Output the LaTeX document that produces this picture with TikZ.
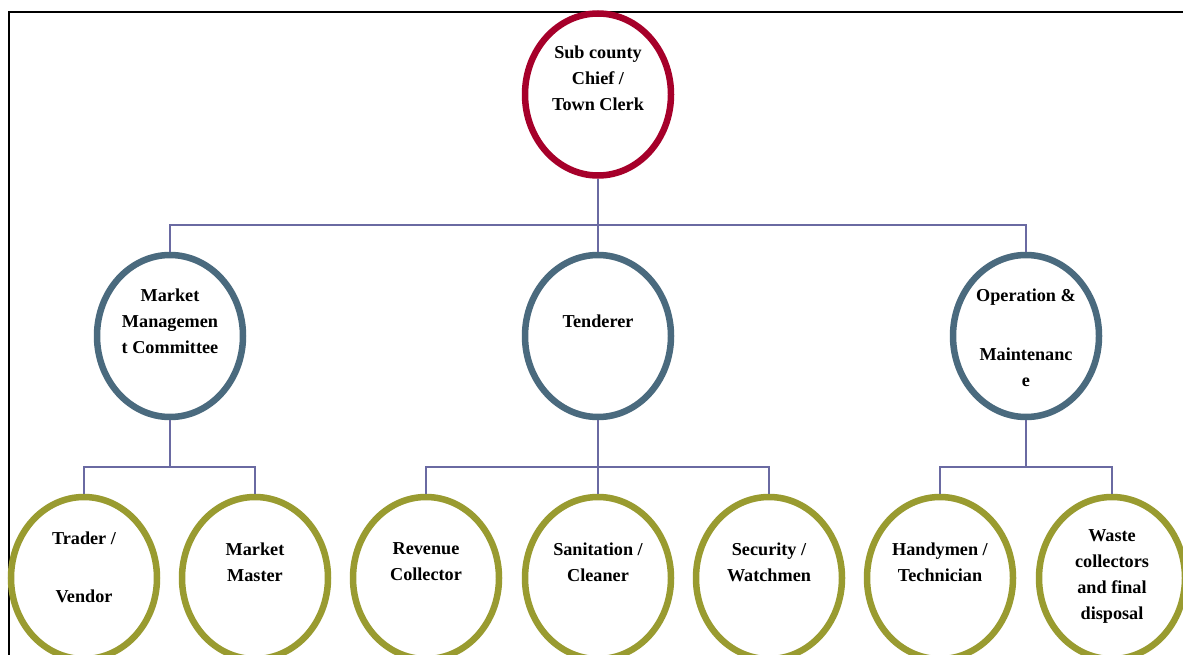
\documentclass[tikz,border=0pt]{standalone}
\usepackage{fontspec}
\setmainfont{Liberation Serif}
\usetikzlibrary{shapes.geometric}
\definecolor{topred}{HTML}{A6002A}
\definecolor{midblue}{HTML}{4A6A7E}
\definecolor{lowolive}{HTML}{999B30}
\definecolor{connc}{HTML}{6A6AA2}
\begin{document}
\begin{tikzpicture}[x=1pt,y=-1pt,
  oval/.style={ellipse, draw, line width=6.5pt, minimum width=146pt, minimum height=162pt, inner sep=0pt, fill=white},
  ovtop/.style={oval, draw=topred},
  ovmid/.style={oval, draw=midblue},
  ovlow/.style={oval, draw=lowolive},
  txt/.style={align=center, inner sep=0pt, font=\bfseries\fontsize{18.2}{26}\selectfont},
  conn/.style={draw=connc, line width=2pt}]
\useasboundingbox (0,0) rectangle (1183,655);
\clip (0,0) rectangle (1183,655);
\fill[white] (0,0) rectangle (1183,655);
\draw[line width=2.4pt] (9,660) -- (9,12) -- (1190,12);
% nodes
\node[ovtop] (top) at (598,94.5) {};
\node[ovmid] (mmc) at (170,336) {};
\node[ovmid] (ten) at (598,336) {};
\node[ovmid] (om) at (1026,336) {};
\node[ovlow] (tv) at (84,578) {};
\node[ovlow] (mm) at (255,578) {};
\node[ovlow] (rc) at (426,578) {};
\node[ovlow] (sc) at (598,578) {};
\node[ovlow] (sw) at (769,578) {};
\node[ovlow] (ht) at (940,578) {};
\node[ovlow] (wc) at (1112,578) {};
% connectors
\coordinate (b1) at (598,225.5);
\coordinate (b2) at (170,467);
\coordinate (b3) at (598,467);
\coordinate (b4) at (1026,467);
\draw[conn] (top.south) -- (b1);
\draw[conn] (mmc.north) |- (b1) -| (om.north);
\draw[conn] (b1) -- (ten.north);
\draw[conn] (mmc.south) -- (b2);
\draw[conn] (tv.north) |- (b2) -| (mm.north);
\draw[conn] (ten.south) -- (b3);
\draw[conn] (rc.north) |- (b3) -| (sw.north);
\draw[conn] (b3) -- (sc.north);
\draw[conn] (om.south) -- (b4);
\draw[conn] (ht.north) |- (b4) -| (wc.north);
% texts
\node[txt] at ([yshift=16pt]top.center) {Sub county\\Chief /\\Town Clerk};
\node[txt] at ([yshift=15pt]mmc.center) {Market\\Managemen\\t Committee};
\node[txt] at ([yshift=15pt]ten.center) {Tenderer};
\node[txt] at ([yshift=-2pt]om.center) {Operation \&\\[33pt]Maintenanc\\e};
\node[txt] at ([yshift=11pt]tv.center) {Trader /\\[32pt]Vendor};
\node[txt] at ([yshift=16pt]mm.center) {Market\\Master};
\node[txt] at ([yshift=16pt]rc.center) {Revenue\\Collector};
\node[txt] at ([yshift=16pt]sc.center) {Sanitation /\\Cleaner};
\node[txt] at ([yshift=16pt]sw.center) {Security /\\Watchmen};
\node[txt] at ([yshift=16pt]ht.center) {Handymen /\\Technician};
\node[txt] at ([yshift=1.5pt]wc.center) {Waste\\collectors\\and final\\disposal};
\end{tikzpicture}
\end{document}
